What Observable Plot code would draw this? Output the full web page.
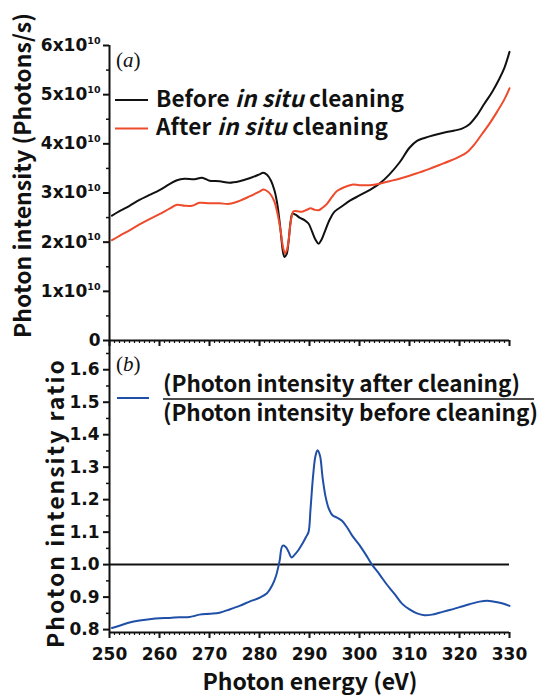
<!DOCTYPE html>
<html><head><meta charset="utf-8">
<script src="https://cdn.jsdelivr.net/npm/d3@7"></script>
<script src="https://cdn.jsdelivr.net/npm/@observablehq/plot@0.6"></script>
<style>
body{margin:0;background:#fff}
#wrap{position:relative;width:540px;height:695px;overflow:hidden;background:#fff}
#wrap svg{position:absolute;left:0;top:0}
</style></head><body><div id="wrap"></div>
<script>
// ---------- data ----------
const beforeEnergy = [250.5,252,254,256,258,260,262,263.5,265,267,268.5,270,272,274,276,278,280,280.7,281.5,282.3,283,283.6,284.2,284.7,285.0,285.4,285.8,286.2,286.6,287.2,288,289,289.8,290.5,291.2,291.8,292.4,293,294,295,296.5,298,300,302,304,306,308,310,311.5,313,315,317,319,320.5,322,323.5,325,326.5,328,329,330];
const beforeIntensity = [2.54,2.63,2.74,2.86,2.96,3.06,3.18,3.26,3.29,3.28,3.31,3.25,3.24,3.21,3.24,3.30,3.38,3.41,3.37,3.25,3.05,2.75,2.25,1.80,1.70,1.75,2.00,2.40,2.58,2.56,2.50,2.45,2.38,2.22,2.05,1.97,2.05,2.20,2.45,2.62,2.73,2.84,2.95,3.06,3.19,3.38,3.62,3.92,4.06,4.12,4.18,4.23,4.27,4.31,4.40,4.58,4.82,5.05,5.33,5.55,5.87];
const afterEnergy = [250.5,252,254,256,258,260,262,263.5,265,266.5,268,270,272,274,276,278,280,280.8,281.5,282.3,283,283.6,284.2,284.7,285.1,285.5,285.9,286.3,286.8,287.5,288.5,289.5,290.2,291,291.8,292.6,293.5,294.5,295.5,297,298.5,300,302,304,306,308,310,312,314,316,318,320,321.5,323,324.5,326,327.5,329,330];
const afterIntensity = [2.04,2.13,2.24,2.36,2.47,2.57,2.68,2.76,2.74,2.74,2.80,2.79,2.79,2.78,2.84,2.93,3.03,3.07,3.04,2.96,2.82,2.58,2.25,1.90,1.77,1.85,2.10,2.45,2.63,2.63,2.62,2.66,2.69,2.66,2.65,2.70,2.78,2.92,3.04,3.12,3.17,3.16,3.16,3.19,3.24,3.29,3.35,3.42,3.49,3.57,3.65,3.74,3.83,3.99,4.20,4.41,4.65,4.91,5.13];
const ratioEnergy = [250.5,252,254,256,258,260,262,264,266,267,268,270,272,274,276,278,280,281.5,282.5,283.3,284,284.6,285.2,285.8,286.4,287,287.8,288.6,289.3,289.8,290.2,290.7,291.2,291.6,292.1,292.6,293.2,293.8,294.6,295.5,296.5,297.5,298.5,300,301.5,302.5,304,305.5,307,308.5,310,311.5,313,314.5,316,318,320,322,324,325.5,327,328.5,330];
const ratioValue = [0.805,0.812,0.822,0.828,0.832,0.835,0.836,0.838,0.839,0.842,0.846,0.849,0.852,0.862,0.873,0.886,0.898,0.912,0.935,0.965,1.010,1.058,1.055,1.040,1.022,1.030,1.045,1.065,1.085,1.100,1.170,1.270,1.335,1.352,1.335,1.270,1.210,1.175,1.152,1.145,1.135,1.115,1.090,1.060,1.025,1.000,0.970,0.938,0.910,0.880,0.862,0.850,0.844,0.846,0.852,0.860,0.869,0.878,0.886,0.889,0.886,0.881,0.873];

const xTicks = [250,260,270,280,290,300,310,320,330];
const xMinorTicks = d3.range(250, 331, 1);
const yTopTicks = [0,1,2,3,4,5,6];           // ×10^10 photons/s
const yTopMinorTicks = [0.5,1.5,2.5,3.5,4.5,5.5];
const yBottomTicks = [0.8,0.9,1.0,1.1,1.2,1.3,1.4,1.5,1.6];
const yBottomMinorTicks = [0.85,0.95,1.05,1.15,1.25,1.35,1.45,1.55,1.65];
const legendTop = [["Before ","in situ"," cleaning"],["After ","in situ"," cleaning"]];
const legendBottom = ["(Photon intensity after cleaning)","(Photon intensity before cleaning)"];
const xTitle = "Photon energy (eV)";
const yTopTitle = "Photon intensity (Photons/s)";
const yBottomTitle = "Photon intensity ratio";

const BLACK = "#111", RED = "#ee4a2c", BLUE = "#1f4fa6";
const FONT = "'Noto Sans CJK JP','Noto Sans',sans-serif";
const TICKFONT = "'DejaVu Sans',sans-serif";
const W = 540, H = 695;

const before = beforeEnergy.map((e,i)=>({e, v: beforeIntensity[i]}));
const after = afterEnergy.map((e,i)=>({e, v: afterIntensity[i]}));
const ratio = ratioEnergy.map((e,i)=>({e, v: ratioValue[i]}));

const common = {
  width: W, height: H, marginLeft: 109, marginRight: 31,
  x: {domain: [250, 330]},
  style: {background: "transparent", fontFamily: FONT, overflow: "visible", color: BLACK}
};
const tickText = {fontSize: 17, fontWeight: "bold", fontFamily: TICKFONT};

const topPlot = Plot.plot({
  ...common,
  marginTop: 45, marginBottom: H - 340,
  y: {domain: [0, 6]},
  marks: [
    Plot.axisX({ticks: xMinorTicks, tickSize: 3, tickFormat: () => "", strokeWidth: 1.2, label: null}),
    Plot.axisX({ticks: xTicks, tickSize: 6, tickFormat: () => "", strokeWidth: 2, label: null}),
    Plot.axisY({ticks: yTopMinorTicks, tickSize: 3, tickFormat: () => "", strokeWidth: 1.5, label: null}),
    Plot.axisY({ticks: yTopTicks, tickSize: 6, tickPadding: 3, strokeWidth: 2, label: null,
      tickFormat: d => d === 0 ? "0" : `${d}x10^10`, ...tickText}),
    Plot.ruleX([250], {strokeWidth: 2}),
    Plot.ruleY([0], {strokeWidth: 2}),
    Plot.line(before, {x: "e", y: "v", stroke: BLACK, strokeWidth: 2, curve: "catmull-rom"}),
    Plot.line(after, {x: "e", y: "v", stroke: RED, strokeWidth: 2, curve: "catmull-rom"})
  ]
});

const bottomPlot = Plot.plot({
  ...common,
  marginTop: 340, marginBottom: H - 632,
  y: {domain: [0.791, 1.69]},
  marks: [
    Plot.axisX({ticks: xMinorTicks, tickSize: 3, tickFormat: () => "", strokeWidth: 1.2, label: null}),
    Plot.axisX({ticks: xTicks, tickSize: 6, tickPadding: 9, strokeWidth: 2, label: null,
      tickFormat: d3.format("d"), ...tickText}),
    Plot.axisY({ticks: yBottomMinorTicks, tickSize: 3, tickFormat: () => "", strokeWidth: 1.5, label: null}),
    Plot.axisY({ticks: yBottomTicks, tickSize: 6, tickPadding: 4, strokeWidth: 2, label: null,
      tickFormat: d3.format(".1f"), ...tickText}),
    Plot.ruleX([250], {strokeWidth: 2}),
    Plot.ruleY([0.791], {strokeWidth: 2}),
    Plot.ruleY([1], {strokeWidth: 2, stroke: BLACK}),
    Plot.line(ratio, {x: "e", y: "v", stroke: BLUE, strokeWidth: 2, curve: "catmull-rom"})
  ]
});

const wrap = document.getElementById("wrap");
wrap.appendChild(topPlot);
wrap.appendChild(bottomPlot);

// superscripts for the ×10^10 tick labels
d3.select(topPlot).selectAll("text").each(function(){
  const m = this.textContent.match(/^(.*)\^(\d+)$/);
  if (m) {
    this.textContent = m[1];
    d3.select(this).append("tspan").attr("dy", "-0.75em").attr("font-size", "9.5px").text(m[2]);
  }
});

// titles, panel labels and legends
const svg = d3.select(bottomPlot);
const g = svg.append("g").attr("font-family", FONT).attr("fill", BLACK).attr("text-anchor", "start");
g.append("text").attr("x", 310).attr("y", 690).attr("text-anchor", "middle")
  .attr("font-size", 23).attr("font-weight", "bold")
  .attr("textLength", 215).attr("lengthAdjust", "spacing").text(xTitle);
g.append("text").attr("transform", "translate(31,338) rotate(-90)").attr("text-anchor", "start")
  .attr("font-size", 23).attr("font-weight", "bold")
  .attr("textLength", 325).attr("lengthAdjust", "spacing").text(yTopTitle);
g.append("text").attr("transform", "translate(63.5,504) rotate(-90)").attr("text-anchor", "middle")
  .attr("font-size", 23).attr("font-weight", "bold")
  .attr("textLength", 288).attr("lengthAdjust", "spacing").text(yBottomTitle);

const serif = "'Liberation Serif','DejaVu Serif',serif";
[["a", 66.5], ["b", 371]].forEach(([l, y]) => {
  const t = g.append("text").attr("x", 116).attr("y", y).attr("font-family", serif).attr("font-size", 21);
  t.append("tspan").text("(");
  t.append("tspan").attr("font-style", "italic").text(l);
  t.append("tspan").text(")");
});

[[BLACK, 100, 106.5, 248], [RED, 128.5, 135, 232]].forEach(([c, ly, by, len], i) => {
  g.append("line").attr("x1", 115).attr("x2", 148).attr("y1", ly).attr("y2", ly)
    .attr("stroke", c).attr("stroke-width", 2);
  const t = g.append("text").attr("x", 156).attr("y", by).attr("font-size", 22.5).attr("font-weight", "bold")
    .attr("textLength", len).attr("lengthAdjust", "spacing");
  t.append("tspan").text(legendTop[i][0]);
  t.append("tspan").attr("font-style", "italic").text(legendTop[i][1]);
  t.append("tspan").text(legendTop[i][2]);
});

g.append("line").attr("x1", 117).attr("x2", 149).attr("y1", 398).attr("y2", 398)
  .attr("stroke", BLUE).attr("stroke-width", 2);
g.append("line").attr("x1", 163).attr("x2", 534).attr("y1", 399).attr("y2", 399)
  .attr("stroke", BLACK).attr("stroke-width", 1.5);
g.append("text").attr("x", 163).attr("y", 391.5).attr("font-size", 22.5).attr("font-weight", "bold")
  .attr("textLength", 357).attr("lengthAdjust", "spacing").text(legendBottom[0]);
g.append("text").attr("x", 163).attr("y", 420.5).attr("font-size", 22.5).attr("font-weight", "bold")
  .attr("textLength", 375).attr("lengthAdjust", "spacing").text(legendBottom[1]);
</script></body></html>
